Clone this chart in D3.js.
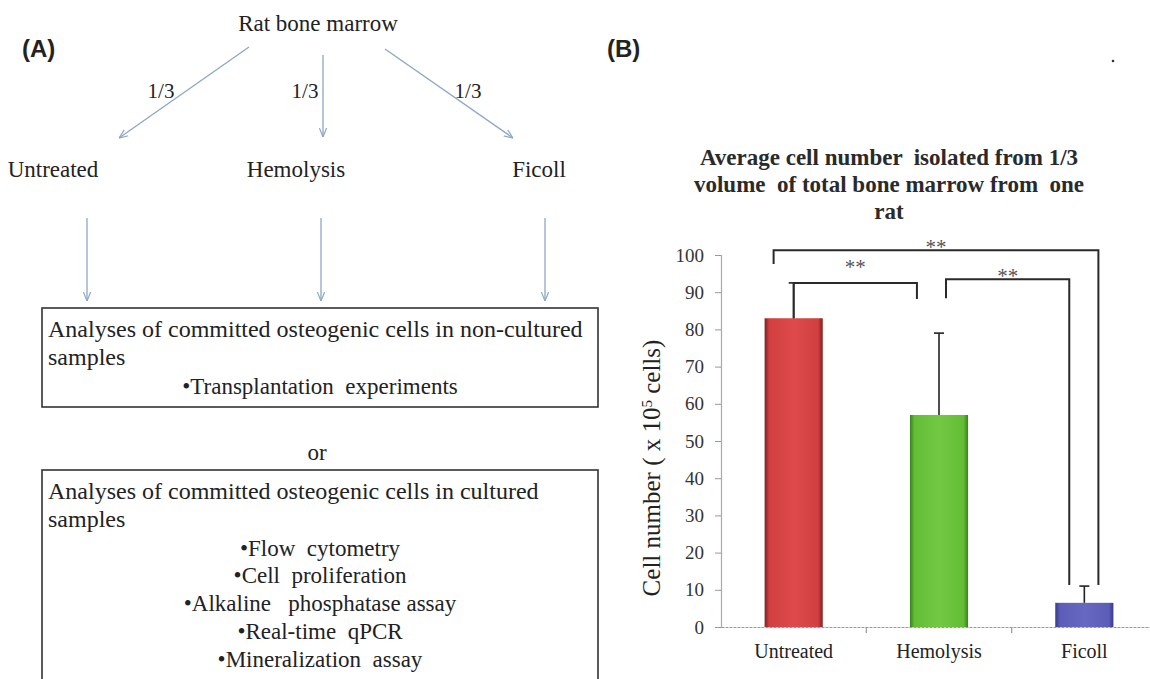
<!DOCTYPE html>
<html>
<head>
<meta charset="utf-8">
<script src="https://cdn.jsdelivr.net/npm/d3@7/dist/d3.min.js"></script>
<style>
  html, body { margin: 0; padding: 0; background: #fff; }
  svg { display: block; }
  .serif { font-family: "Liberation Serif", "Times New Roman", serif; }
  text { white-space: pre; }
</style>
</head>
<body>
<svg id="fig" width="1150" height="679"></svg>
<script>
// ---------- Panel A: workflow ----------
const sourceLabel = "Rat bone marrow";
const splitLabel = "1/3";
const treatments = ["Untreated", "Hemolysis", "Ficoll"];
const box1Lines = ["Analyses of committed osteogenic cells in non-cultured", "samples"];
const box1Bullets = ["•Transplantation  experiments"];
const connector = "or";
const box2Lines = ["Analyses of committed osteogenic cells in cultured", "samples"];
const box2Bullets = ["•Flow  cytometry", "•Cell  proliferation", "•Alkaline   phosphatase assay", "•Real-time  qPCR", "•Mineralization  assay"];

// ---------- Panel B: bar chart ----------
const categories = ["Untreated", "Hemolysis", "Ficoll"];
const cellNumbers = [83, 57, 6.5];        // mean, x 10^5 cells
const errUpper = [9.5, 22, 4.5];          // SD shown above each bar
const yTicks = [0, 10, 20, 30, 40, 50, 60, 70, 80, 90, 100];
const titleLines = ["Average cell number  isolated from 1/3", "volume  of total bone marrow from  one", "rat"];
// significance brackets: left category, right category, bar height, leg ends, label
const bracketFrom = ["Untreated", "Hemolysis", "Untreated"];
const bracketTo = ["Hemolysis", "Ficoll", "Ficoll"];
const bracketLevel = [92.5, 93.5, 101.3];
const bracketLeftEnd = [83, 88.4, 97.6];
const bracketRightEnd = [88.2, 11.3, 11.3];
const bracketLabel = ["**", "**", "**"];

const svg = d3.select("#fig");
const arrowColor = "#8ea6c6";

svg.append("defs").append("marker")
  .attr("id", "vhead").attr("viewBox", "0 0 10 10")
  .attr("refX", 10).attr("refY", 5)
  .attr("markerWidth", 9).attr("markerHeight", 9)
  .attr("markerUnits", "userSpaceOnUse")
  .attr("orient", "auto")
  .append("path").attr("d", "M0,1 L10,5 L0,9")
  .attr("fill", "none").attr("stroke", arrowColor).attr("stroke-width", 1.3);

// Panel letters
svg.append("text").attr("x", 22).attr("y", 57)
  .style("font-family", "'Liberation Sans', Arial, sans-serif")
  .style("font-weight", "bold").style("font-size", "24px").attr("fill", "#222").text("(A)");
svg.append("text").attr("x", 607).attr("y", 57)
  .style("font-family", "'Liberation Sans', Arial, sans-serif")
  .style("font-weight", "bold").style("font-size", "24px").attr("fill", "#222").text("(B)");
svg.append("circle").attr("cx", 1113).attr("cy", 61).attr("r", 1.3).attr("fill", "#333");

const A = svg.append("g").attr("class", "serif").attr("fill", "#222").style("font-size", "23px");

A.append("text").attr("x", 318).attr("y", 31).attr("text-anchor", "middle").text(sourceLabel);

// split arrows from the source to the three treatments
const treatX = d3.scalePoint().domain(treatments).range([53, 539]);
const splitStart = [[249, 47], [323, 55], [385, 49]];
const splitEnd = [[119, 138], [323, 137], [513, 138]];
const splitLabelPos = [[161, 98], [305, 98], [468, 98]];
treatments.forEach((t, i) => {
  A.append("line")
    .attr("x1", splitStart[i][0]).attr("y1", splitStart[i][1])
    .attr("x2", splitEnd[i][0]).attr("y2", splitEnd[i][1])
    .attr("stroke", arrowColor).attr("stroke-width", 1.3)
    .attr("marker-end", "url(#vhead)");
  A.append("text").attr("x", splitLabelPos[i][0]).attr("y", splitLabelPos[i][1])
    .attr("text-anchor", "middle").style("font-size", "21px").text(splitLabel);
  A.append("text").attr("x", treatX(t)).attr("y", 177)
    .attr("text-anchor", "middle").text(t);
});

// arrows from each treatment down to the analyses
const downX = [87, 321, 545];
downX.forEach(x => {
  A.append("line").attr("x1", x).attr("y1", 218).attr("x2", x).attr("y2", 301)
    .attr("stroke", arrowColor).attr("stroke-width", 1.3)
    .attr("marker-end", "url(#vhead)");
});

function analysisBox(top, height, lines, bullets) {
  const left = 42, right = 598;
  A.append("rect").attr("x", left).attr("y", top).attr("width", right - left).attr("height", height)
    .attr("fill", "none").attr("stroke", "#333").attr("stroke-width", 1.6);
  lines.forEach((l, i) => {
    A.append("text").attr("x", 48).attr("y", top + 29 + i * 28)
      .style("font-size", "24px").attr("textLength", null).text(l);
  });
  bullets.forEach((b, i) => {
    A.append("text").attr("x", (left + right) / 2).attr("y", top + 29 + (lines.length + i) * 28 + (i === 0 ? 1 : 0))
      .attr("text-anchor", "middle").text(b);
  });
}
analysisBox(308, 99, box1Lines, box1Bullets);
A.append("text").attr("x", 317).attr("y", 460).attr("text-anchor", "middle").text(connector);
analysisBox(470, 230, box2Lines, box2Bullets);

// ---------- Panel B ----------
const B = svg.append("g").attr("class", "serif");
const y = d3.scaleLinear().domain([0, 100]).range([627, 255]);
const x = d3.scaleBand().domain(categories).range([721, 1157]).paddingInner(0.6).paddingOuter(0.3);
const step = x.step();

// title
titleLines.forEach((l, i) => {
  B.append("text").attr("x", 889).attr("y", 165 + i * 27).attr("text-anchor", "middle")
    .style("font-size", "23px").style("font-weight", "bold").attr("fill", "#2a2a2a").text(l);
});

// y axis
const yAxis = B.append("g").attr("transform", "translate(721,0)")
  .call(d3.axisLeft(y).tickValues(yTicks).tickSize(6).tickPadding(11));
yAxis.select(".domain").attr("stroke", "#a8a8a8").attr("stroke-width", 1.2);
yAxis.selectAll(".tick line").attr("stroke", "#999");
yAxis.selectAll(".tick text").attr("fill", "#333").style("font-size", "19px")
  .style("font-family", "'Liberation Serif', serif");

// y axis title
const yt = B.append("text").attr("transform", "translate(660,468) rotate(-90)")
  .attr("text-anchor", "middle").style("font-size", "25px").attr("fill", "#222");
yt.append("tspan").text("Cell number ( x 10");
yt.append("tspan").attr("baseline-shift", "super").style("font-size", "15px").text("5");
yt.append("tspan").text(" cells)");

// x axis
const xAxis = B.append("g").attr("transform", "translate(0,627)")
  .call(d3.axisBottom(x).tickSize(0).tickPadding(17));
xAxis.select(".domain").attr("stroke", "#999").attr("stroke-width", 1.2).attr("stroke-dasharray", "3,1");
xAxis.selectAll(".tick text").attr("fill", "#222").style("font-size", "20px")
  .style("font-family", "'Liberation Serif', serif");
// category boundary ticks
B.selectAll(".bound").data(categories.slice(1)).join("line")
  .attr("x1", d => x(d) - x.paddingInner() * step / 2).attr("x2", d => x(d) - x.paddingInner() * step / 2)
  .attr("y1", 627).attr("y2", 633).attr("stroke", "#999").attr("stroke-width", 1.2);

// bar gradients
const defs = svg.select("defs");
const barColors = [["#7e1f22", "#d23f40", "#de4a4b"], ["#3a8020", "#64bd36", "#72c843"], ["#38398c", "#5b5db6", "#6668c2"]];
barColors.forEach((c, i) => {
  const g = defs.append("linearGradient").attr("id", "bg" + i).attr("x1", 0).attr("x2", 1).attr("y1", 0).attr("y2", 0);
  g.append("stop").attr("offset", 0).attr("stop-color", c[0]);
  g.append("stop").attr("offset", 0.08).attr("stop-color", c[1]);
  g.append("stop").attr("offset", 0.5).attr("stop-color", c[2]);
  g.append("stop").attr("offset", 0.92).attr("stop-color", c[1]);
  g.append("stop").attr("offset", 1).attr("stop-color", c[0]);
});

B.selectAll(".bar").data(categories).join("rect")
  .attr("x", d => x(d)).attr("width", x.bandwidth())
  .attr("y", (d, i) => y(cellNumbers[i]))
  .attr("height", (d, i) => y(0) - y(cellNumbers[i]))
  .attr("fill", (d, i) => `url(#bg${i})`);

// error bars (upper)
categories.forEach((c, i) => {
  const cx = x(c) + x.bandwidth() / 2;
  const top = y(cellNumbers[i] + errUpper[i]);
  B.append("line").attr("x1", cx).attr("x2", cx).attr("y1", y(cellNumbers[i])).attr("y2", top)
    .attr("stroke", "#222").attr("stroke-width", 1.6);
  B.append("line").attr("x1", cx - 5).attr("x2", cx + 5).attr("y1", top).attr("y2", top)
    .attr("stroke", "#222").attr("stroke-width", 1.6);
});

// significance brackets
const bracketLeftX = [d => x(d) + x.bandwidth() / 2, d => x(d) + x.bandwidth() / 2 + 7, d => x(d) + 9];
const bracketRightX = [d => x(d) + 7, d => x(d) + 14, d => x(d) + x.bandwidth() - 15];
bracketFrom.forEach((f, i) => {
  const x1 = bracketLeftX[i](f), x2 = bracketRightX[i](bracketTo[i]);
  const yl = y(bracketLevel[i]);
  B.append("path")
    .attr("d", `M${x1},${y(bracketLeftEnd[i])} V${yl} H${x2} V${y(bracketRightEnd[i])}`)
    .attr("fill", "none").attr("stroke", "#2a2a2a").attr("stroke-width", 2);
  const lift = i === 0 ? 20 : 7;
  B.append("text").attr("x", (x1 + x2) / 2).attr("y", yl - lift + 11)
    .attr("text-anchor", "middle").style("font-size", "21px").attr("fill", "#555").text(bracketLabel[i]);
});
</script>
</body>
</html>
